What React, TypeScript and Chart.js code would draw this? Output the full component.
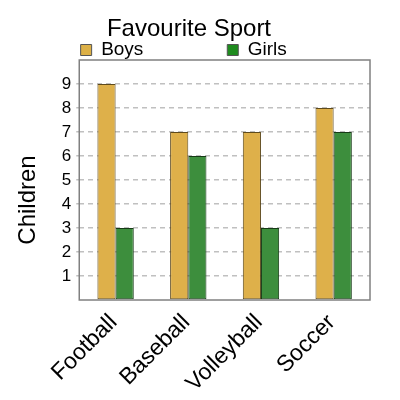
import { useEffect, useRef } from 'react';
import { Chart, registerables } from 'chart.js';

Chart.register(...registerables);

const sports = ['Football', 'Baseball', 'Volleyball', 'Soccer'];
const boys = [9, 7, 7, 8];
const girls = [3, 6, 3, 7];
const seriesNames = ['Boys', 'Girls'];

const FONT = "'Liberation Sans', Arial, sans-serif";

// draws the grey frame round the plot area
const framePlugin = {
  id: 'frame',
  afterDraw(chart: Chart) {
    const { ctx, chartArea } = chart;
    ctx.save();
    ctx.strokeStyle = '#808080';
    ctx.lineWidth = 1.5;
    ctx.strokeRect(chartArea.left, chartArea.top, chartArea.right - chartArea.left, chartArea.bottom - chartArea.top);
    ctx.restore();
  },
};

export default function App() {
  const chartRef = useRef<HTMLCanvasElement>(null);
  const chartInstance = useRef<Chart | null>(null);

  useEffect(() => {
    if (!chartRef.current) return;
    if (chartInstance.current) chartInstance.current.destroy();

    const ctx = chartRef.current.getContext('2d');
    if (!ctx) return;

    chartInstance.current = new Chart(ctx, {
      type: 'bar',
      data: {
        labels: sports,
        datasets: [
          {
            label: seriesNames[0],
            data: boys,
            backgroundColor: '#deb04a',
            borderColor: '#5e4a1c',
            borderWidth: 1,
            borderSkipped: false,
          },
          {
            label: seriesNames[1],
            data: girls,
            backgroundColor: '#3d8e3d',
            borderColor: '#163a16',
            borderWidth: 1,
            borderSkipped: false,
          },
        ],
      },
      options: {
        responsive: true,
        maintainAspectRatio: false,
        animation: false,
        datasets: {
          bar: { categoryPercentage: 0.5, barPercentage: 1.0 },
        },
        layout: { padding: { left: 0, right: 22, top: 0, bottom: 0 } },
        plugins: {
          title: {
            display: true,
            text: 'Favourite Sport',
            color: '#000',
            font: { family: FONT, size: 24, weight: 'normal', lineHeight: 1 },
            padding: { top: 9.4, bottom: -10.9 },
          },
          legend: {
            position: 'top',
            maxHeight: 29.5,
            labels: {
              color: '#000',
              font: { family: FONT, size: 19 },
              boxWidth: 11,
              boxHeight: 11,
              padding: 10,
              generateLabels(chart: Chart) {
                const items = Chart.defaults.plugins.legend.labels.generateLabels(chart);
                return items.map((item, i) => ({
                  ...item,
                  fillStyle: i === 0 ? '#dcb046' : '#1f8c1f',
                  strokeStyle: '#555',
                  lineWidth: 1,
                  text: item.text + (i === 0 ? ' '.repeat(14) : '  '),
                }));
              },
            },
          },
          tooltip: { enabled: false },
        },
        scales: {
          x: {
            grid: { display: false },
            border: { display: false },
            afterFit(scale: any) {
              scale.height = 92;
            },
            ticks: {
              color: '#000',
              font: { family: FONT, size: 23 },
              minRotation: 45,
              maxRotation: 45,
              padding: 1,
              labelOffset: -2,
            },
          },
          y: {
            min: 0,
            max: 10,
            z: 1,
            border: { display: false, dash: [5, 4] },
            grid: {
              color: (c: any) => (c.tick.value === 0 || c.tick.value === 10 ? 'transparent' : 'rgba(150,150,150,0.6)'),
              lineWidth: 1.5,
              tickLength: 3,
            },
            ticks: {
              stepSize: 1,
              color: '#000',
              font: { family: FONT, size: 17 },
              padding: 5,
              callback: (v: any) => (v === 0 || v === 10 ? '' : String(v)),
            },
            title: {
              display: true,
              text: 'Children' + ' '.repeat(6),
              color: '#000',
              font: { family: FONT, size: 24 },
              padding: { top: 6, bottom: 14 },
            },
          },
        },
      },
      plugins: [framePlugin],
    });

    return () => {
      if (chartInstance.current) {
        chartInstance.current.destroy();
        chartInstance.current = null;
      }
    };
  }, []);

  return (
    <div style={{ width: 384, height: 384 }}>
      <canvas ref={chartRef} />
    </div>
  );
}
